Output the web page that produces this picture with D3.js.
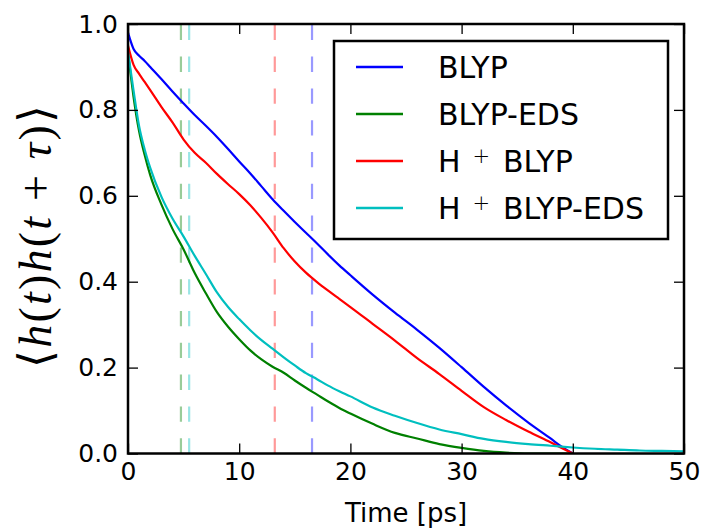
<!doctype html>
<html>

<head>
    <title>Correlation decay</title>
    <script src="https://d3js.org/d3.v7.min.js"></script>
    <style>
        body {
            margin: 0;
            background: white;
        }

        text {
            font-family: 'DejaVu Sans', sans-serif;
        }
    </style>
</head>

<body>
    <div id="my_dataviz"></div>

    <script>
        // data
        var times = [0, 0.5, 1, 1.5, 2, 3, 4, 5, 6, 7, 8, 9, 10, 11, 12, 13, 14, 15, 16, 17, 18, 19, 20,
            22, 24, 26, 28, 30, 32, 34, 36, 38, 39, 40];
        var tailTimes = [42, 44, 46, 48, 50];

        var blyp = [0.98, 0.942, 0.926, 0.914, 0.90, 0.872, 0.843, 0.815, 0.788, 0.763, 0.737, 0.709, 0.68,
            0.652, 0.622, 0.592, 0.565, 0.539, 0.514, 0.489, 0.463, 0.438, 0.415,
            0.37, 0.328, 0.288, 0.246, 0.201, 0.155, 0.112, 0.072, 0.035, 0.016, 0.0];
        var blypEds = [0.935, 0.83, 0.75, 0.695, 0.648, 0.58, 0.523, 0.475, 0.42, 0.373, 0.329, 0.295, 0.266,
            0.24, 0.219, 0.202, 0.188, 0.17, 0.153, 0.137, 0.121, 0.106, 0.093,
            0.069, 0.048, 0.035, 0.022, 0.013, 0.006, 0.002, 0.0, 0.0, 0.0, 0.0];
        var hBlyp = [0.95, 0.905, 0.884, 0.865, 0.846, 0.807, 0.771, 0.731, 0.70, 0.677, 0.651, 0.627, 0.604,
            0.578, 0.548, 0.515, 0.478, 0.447, 0.421, 0.399, 0.379, 0.36, 0.341,
            0.302, 0.263, 0.222, 0.185, 0.146, 0.108, 0.078, 0.051, 0.026, 0.013, 0.0];
        var hBlypEds = [0.935, 0.845, 0.762, 0.708, 0.665, 0.598, 0.547, 0.505, 0.46, 0.418, 0.375, 0.341, 0.313,
            0.287, 0.264, 0.244, 0.224, 0.205, 0.187, 0.173, 0.158, 0.145, 0.133,
            0.107, 0.088, 0.071, 0.056, 0.045, 0.034, 0.027, 0.022, 0.018, 0.016, 0.014,
            0.011, 0.009, 0.007, 0.006, 0.005];

        // correlation times (dashed lines)
        var tauValues = [16.55, 4.76, 13.2, 5.5];

        var labels = ["BLYP", "BLYP-EDS", "H+ BLYP", "H+ BLYP-EDS"];
        var colors = ["#0000ff", "#008000", "#ff0000", "#00bfbf"];
        var xTicks = [0, 10, 20, 30, 40, 50];
        var yTicks = [0, 0.2, 0.4, 0.6, 0.8, 1.0];

        var series = [
            { name: labels[0], t: times, v: blyp },
            { name: labels[1], t: times, v: blypEds },
            { name: labels[2], t: times, v: hBlyp },
            { name: labels[3], t: times.concat(tailTimes), v: hBlypEds }
        ];

        // set the dimensions and margins of the graph
        var margin = { top: 24, right: 20, bottom: 77.5, left: 128 },
            width = 684 - margin.left,
            height = 453.5 - margin.top;

        var svg = d3.select("#my_dataviz")
            .append("svg")
            .attr("width", 704)
            .attr("height", 531)
            .append("g")
            .attr("transform", "translate(" + margin.left + "," + margin.top + ")");

        var x = d3.scaleLinear().domain([0, 50]).range([0, width]);
        var y = d3.scaleLinear().domain([0, 1]).range([height, 0]);

        svg.append("clipPath").attr("id", "clip")
            .append("rect").attr("width", width).attr("height", height);

        // vertical dashed lines
        svg.append("g").selectAll("line")
            .data(tauValues)
            .enter()
            .append("line")
            .attr("x1", function (d) { return x(d) })
            .attr("x2", function (d) { return x(d) })
            .attr("y1", y(0))
            .attr("y2", y(1))
            .attr("stroke", function (d, i) { return colors[i] })
            .attr("stroke-opacity", 0.4)
            .attr("stroke-width", 2.2)
            .attr("stroke-dasharray", "15.3,16.5");

        // curves
        var line = d3.line()
            .curve(d3.curveMonotoneX)
            .x(function (d) { return x(d[0]) })
            .y(function (d) { return y(d[1]) });

        svg.append("g").attr("clip-path", "url(#clip)")
            .selectAll("path")
            .data(series)
            .enter()
            .append("path")
            .attr("d", function (s) {
                return line(s.v.map(function (v, i) { return [s.t[i], v] }))
            })
            .attr("stroke", function (s, i) { return colors[i] })
            .attr("stroke-width", 2.2)
            .attr("stroke-linejoin", "round")
            .style("fill", "none");

        // axes, ticks pointing inwards
        function styleAxis(g) {
            g.select(".domain").remove();
            g.selectAll(".tick line").attr("stroke", "black").attr("stroke-width", 1.3);
            g.selectAll(".tick text").attr("fill", "black")
                .style("font-family", "'DejaVu Sans', sans-serif")
                .style("font-size", "25px");
        }

        svg.append("g")
            .attr("transform", "translate(0," + height + ")")
            .call(d3.axisBottom(x).tickValues(xTicks).tickSizeInner(-10).tickSizeOuter(0).tickPadding(9))
            .call(styleAxis);
        svg.append("g")
            .call(d3.axisTop(x).tickValues(xTicks).tickSizeInner(-10).tickSizeOuter(0).tickFormat(""))
            .call(styleAxis);
        svg.append("g")
            .call(d3.axisLeft(y).tickValues(yTicks).tickSizeInner(-10).tickSizeOuter(0).tickPadding(10)
                .tickFormat(d3.format(".1f")))
            .call(styleAxis);
        svg.append("g")
            .attr("transform", "translate(" + width + ",0)")
            .call(d3.axisRight(y).tickValues(yTicks).tickSizeInner(-10).tickSizeOuter(0).tickFormat(""))
            .call(styleAxis);

        // frame
        svg.append("rect")
            .attr("width", width)
            .attr("height", height)
            .attr("fill", "none")
            .attr("stroke", "black")
            .attr("stroke-width", 2.5);

        // x label
        svg.append("text")
            .attr("x", width / 2)
            .attr("y", height + 68.5)
            .attr("text-anchor", "middle")
            .style("font-size", "26px")
            .text("Time [ps]");

        // y label
        var ylab = svg.append("text")
            .attr("transform", "translate(" + (51 - margin.left) + "," + (236.5 - margin.top) + ") rotate(-90)")
            .attr("text-anchor", "middle")
            .attr("textLength", 263)
            .attr("lengthAdjust", "spacing")
            .style("font-family", "'Liberation Serif', serif")
            .style("font-size", "46px");
        [["\u27E8", "normal"], ["h", "italic"], ["(", "normal"], ["t", "italic"], [")", "normal"],
        ["h", "italic"], ["(", "normal"], ["t", "italic"], [" + ", "normal"], ["\u03C4", "italic"],
        [")", "normal"], ["\u27E9", "normal"]].forEach(function (p) {
            var ts = ylab.append("tspan").style("font-style", p[1]).text(p[0]);
            if (p[0] === "\u27E8" || p[0] === "\u27E9") {
                ts.style("font-family", "'DejaVu Sans', sans-serif").style("font-weight", 200);
            } else {
                ts.style("font-family", "'Liberation Serif', serif");
            }
        });

        // legend
        var legend = svg.append("g")
            .attr("transform", "translate(" + (334 - margin.left) + "," + (41 - margin.top) + ")");
        legend.append("rect")
            .attr("width", 334)
            .attr("height", 198)
            .attr("fill", "white")
            .attr("stroke", "black")
            .attr("stroke-width", 2.5);

        var rows = legend.selectAll(".row")
            .data(labels)
            .enter()
            .append("g")
            .attr("transform", function (d, i) { return "translate(0," + (26 + i * 47) + ")" });
        rows.append("line")
            .attr("x1", 22).attr("x2", 69)
            .attr("stroke", function (d, i) { return colors[i] })
            .attr("stroke-width", 2.5);
        rows.each(function (d) {
            var t = d3.select(this).append("text")
                .attr("x", 104)
                .attr("y", 10.7)
                .style("font-size", "30px");
            if (d.indexOf("H+") === 0) {
                t.append("tspan").text("H");
                t.append("tspan").attr("dx", 12).attr("dy", -9)
                    .style("font-size", "21px").style("font-weight", 200).text("+");
                t.append("tspan").attr("x", 169).attr("dy", 9).text(d.slice(3));
            } else {
                t.text(d);
            }
        });
    </script>

</body>

</html>
